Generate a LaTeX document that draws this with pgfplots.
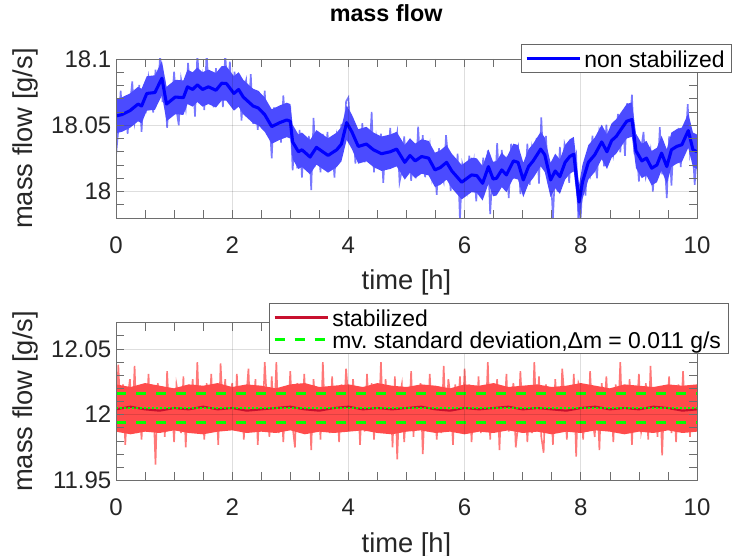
\documentclass[border=0pt]{standalone}
\usepackage{fontspec}
\setmainfont{Liberation Sans}
\usepackage{pgfplots}
\pgfplotsset{compat=1.18}
\definecolor{noiseblue}{RGB}{75,75,255}
\definecolor{smoothblue}{RGB}{0,0,255}
\definecolor{noisered}{RGB}{255,75,75}
\definecolor{crimson}{RGB}{200,16,46}
\definecolor{mygreen}{RGB}{0,255,0}
\definecolor{axgray}{RGB}{110,110,110}
\pgfplotsset{
  common/.style={
    anchor=south west, scale only axis, width=435.75pt,
    xmin=0, xmax=10, xtick={0,2,4,6,8,10}, minor xtick={0.5,1,1.5,2.5,3,3.5,4.5,5,5.5,6.5,7,7.5,8.5,9,9.5},
    tick align=inside, tick pos=both,
    axis line style={axgray, line width=0.5pt},
    tick style={axgray, line width=0.5pt},
    major tick length=6pt, minor tick length=6pt,
    grid=major, major grid style={black, opacity=0.13, line width=0.5pt},
    axis on top,
    scaled y ticks=false,
    /pgf/number format/assume math mode=true,
    tick label style={font=\fontsize{18}{20}\selectfont, color=black!85},
    xticklabel style={anchor=base, yshift=-26.7pt},
    xlabel={time [h]}, ylabel={mass flow [g/s]},
    label style={font=\fontsize{20.5}{24}\selectfont, color=black!85},
    xlabel style={at={(axis description cs:0.5,0)}, anchor=base, yshift=-54pt},
    ylabel style={at={(axis description cs:-0.1437,0.5)}, anchor=base},
    legend style={draw=black!60, line width=0.5pt, fill=white,
      font=\fontsize{17.2}{21.2}\selectfont, inner xsep=3pt, inner ysep=2.5pt,
      nodes={inner xsep=2.25pt, inner ysep=0pt}, cells={anchor=west}},
    legend image code/.code={\draw[#1] (0pt,0pt) -- (40pt,0pt);},
  }
}
\begin{document}
\begin{tikzpicture}
\begin{axis}[common, at={(87pt,253.5pt)}, height=119.25pt,
  ymin=17.98, ymax=18.1, ytick={18,18.05,18.1},
  minor ytick={17.98,17.99,18.01,18.02,18.03,18.04,18.06,18.07,18.08,18.09},
  title={mass flow},
  title style={at={(axis description cs:0.465,1)}, anchor=base, yshift=22.3pt, font=\fontsize{17.5}{20}\selectfont\bfseries},
  legend style={at={(1.0602,1.0943)}, anchor=north east}]
% raw (non stabilized) signal
\addplot[noiseblue, line width=1.2pt, opacity=0.75, forget plot] coordinates {
(0.00,18.027)(0.04,18.0465)(0.08,18.076)(0.12,18.052)(0.16,18.068)(0.20,18.0435)(0.24,18.0655)(0.28,18.083)(0.32,18.052)(0.36,18.062)
(0.40,18.0805)(0.44,18.045)(0.48,18.0765)(0.52,18.064)(0.56,18.086)(0.60,18.0755)(0.64,18.0596)(0.68,18.092)(0.72,18.0715)(0.76,18.104)
(0.80,18.0675)(0.84,18.079)(0.88,18.048)(0.92,18.0785)(0.96,18.0645)(1.00,18.0905)(1.04,18.062)(1.08,18.050)(1.12,18.0845)(1.16,18.074)
(1.20,18.063)(1.24,18.097)(1.28,18.072)(1.32,18.086)(1.36,18.0565)(1.40,18.104)(1.44,18.0775)(1.48,18.0875)(1.52,18.0615)(1.56,18.1055)
(1.60,18.0715)(1.64,18.0825)(1.68,18.0635)(1.72,18.093)(1.76,18.068)(1.80,18.0885)(1.84,18.0637)(1.88,18.104)(1.92,18.0755)(1.96,18.098)
(2.00,18.066)(2.04,18.0905)(2.08,18.0715)(2.12,18.089)(2.16,18.0535)(2.20,18.077)(2.24,18.084)(2.28,18.0575)(2.32,18.0885)(2.36,18.051)
(2.40,18.067)(2.44,18.0465)(2.48,18.070)(2.52,18.054)(2.56,18.076)(2.60,18.043)(2.64,18.0565)(2.68,18.025)(2.72,18.0635)(2.76,18.048)
(2.80,18.0625)(2.84,18.037)(2.88,18.0725)(2.92,18.0465)(2.96,18.0555)(3.00,18.062)(3.04,18.016)(3.08,18.040)(3.12,18.0175)(3.16,18.0465)
(3.20,18.0105)(3.24,18.039)(3.28,18.0235)(3.32,18.042)(3.36,18.001)(3.40,18.0555)(3.44,18.024)(3.48,18.035)(3.52,18.0145)(3.56,18.0435)
(3.60,18.023)(3.64,18.045)(3.68,18.016)(3.72,18.0365)(3.76,18.0105)(3.80,18.042)(3.84,18.0325)(3.88,18.051)(3.92,18.034)(3.96,18.068)
(4.00,18.071)(4.04,18.0425)(4.08,18.055)(4.12,18.021)(4.16,18.0425)(4.20,18.0235)(4.24,18.0515)(4.28,18.022)(4.32,18.040)(4.36,18.0265)
(4.40,18.060)(4.44,18.0145)(4.48,18.0405)(4.52,18.028)(4.56,18.0437)(4.60,18.0065)(4.64,18.038)(4.68,18.0235)(4.72,18.048)(4.76,18.019)
(4.80,18.0345)(4.84,18.0445)(4.88,18.007)(4.92,18.016)(4.96,18.0415)(5.00,18.0195)(5.04,18.0365)(5.08,18.008)(5.12,18.030)(5.16,18.010)
(5.20,18.049)(5.24,18.0185)(5.28,18.0425)(5.32,18.0108)(5.36,18.0269)(5.40,18.0357)(5.44,18.011)(5.48,18.0242)(5.52,17.9975)(5.56,18.0326)
(5.60,18.016)(5.64,18.008)(5.68,18.0425)(5.72,18.0245)(5.76,18.0005)(5.80,18.0235)(5.84,18.0065)(5.88,18.0285)(5.92,17.978)(5.96,18.0208)
(6.00,18.0135)(6.04,18.0015)(6.08,18.027)(6.12,18.011)(6.16,18.0227)(6.20,17.9925)(6.24,18.0175)(6.28,17.996)(6.32,18.0255)(6.36,18.0065)
(6.40,18.031)(6.44,17.983)(6.48,18.013)(6.52,18.0007)(6.56,18.0365)(6.60,18.0035)(6.64,18.0313)(6.68,18.010)(6.72,18.0215)(6.76,17.995)
(6.80,18.036)(6.84,18.0096)(6.88,18.0285)(6.92,18.034)(6.96,17.998)(7.00,18.011)(7.04,18.0045)(7.08,18.036)(7.12,18.005)(7.16,18.0325)
(7.20,18.0215)(7.24,18.0405)(7.28,18.006)(7.32,18.056)(7.36,18.017)(7.40,18.042)(7.44,18.010)(7.48,18.0177)(7.52,17.979)(7.56,18.0185)
(7.60,18.000)(7.64,18.0337)(7.68,18.0055)(7.72,18.036)(7.76,18.030)(7.80,18.0065)(7.84,18.039)(7.88,18.0235)(7.92,18.0285)(7.96,17.975)
(8.00,17.981)(8.04,18.0195)(8.08,17.997)(8.12,18.0265)(8.16,18.0145)(8.20,18.0422)(8.24,18.0232)(8.28,18.010)(8.32,18.046)(8.36,18.0404)
(8.40,18.019)(8.44,18.0505)(8.48,18.0255)(8.52,18.046)(8.56,18.028)(8.60,18.0397)(8.64,18.0585)(8.68,18.0295)(8.72,18.0565)(8.76,18.027)
(8.80,18.0667)(8.84,18.048)(8.88,18.073)(8.92,18.0305)(8.96,18.0342)(9.00,18.0075)(9.04,18.0325)(9.08,18.045)(9.12,18.0115)(9.16,18.0195)
(9.20,18.0305)(9.24,18.000)(9.28,18.025)(9.32,18.012)(9.36,18.0485)(9.40,18.013)(9.44,18.025)(9.48,17.995)(9.52,18.0415)(9.56,18.0045)
(9.60,18.0401)(9.64,18.0295)(9.68,18.048)(9.72,18.0185)(9.76,18.0475)(9.80,18.0335)(9.84,18.066)(9.88,18.028)(9.92,18.0375)(9.96,18.005)
(10.00,18.030)};
% dense core of the raw signal (upper envelope, then lower envelope back)
\addplot[fill=noiseblue, draw=none, forget plot] coordinates {
(0.00,18.070)(0.10,18.071)(0.24,18.074)(0.38,18.079)(0.44,18.0775)(0.53,18.087)(0.67,18.0877)(0.79,18.0985)(0.87,18.079)(1.02,18.0843)
(1.16,18.0838)(1.23,18.092)(1.32,18.090)(1.40,18.0935)(1.49,18.090)(1.59,18.092)(1.72,18.0894)(1.82,18.0947)(1.90,18.0945)(2.03,18.087)
(2.11,18.090)(2.19,18.0843)(2.36,18.0775)(2.45,18.076)(2.56,18.071)(2.68,18.062)(2.82,18.065)(2.94,18.067)(3.00,18.066)(3.04,18.0504)
(3.14,18.043)(3.20,18.0445)(3.34,18.039)(3.45,18.0463)(3.65,18.0402)(3.80,18.0445)(3.88,18.0488)(3.97,18.065)(4.06,18.058)(4.17,18.047)
(4.31,18.0488)(4.43,18.0445)(4.57,18.0415)(4.72,18.043)(4.83,18.045)(4.97,18.035)(5.06,18.0402)(5.15,18.0361)(5.26,18.0394)(5.38,18.0382)
(5.49,18.0293)(5.58,18.031)(5.69,18.035)(5.78,18.0285)(5.95,18.020)(6.12,18.0255)(6.21,18.025)(6.31,18.0192)(6.41,18.0318)(6.49,18.0224)
(6.55,18.023)(6.64,18.0293)(6.72,18.0255)(6.84,18.0361)(6.92,18.035)(7.01,18.0217)(7.10,18.0318)(7.18,18.0361)(7.31,18.045)(7.38,18.0407)
(7.48,18.0217)(7.56,18.0285)(7.64,18.0242)(7.73,18.035)(7.81,18.0394)(7.88,18.0412)(7.97,18.005)(8.03,18.0204)(8.13,18.035)(8.24,18.0407)
(8.36,18.0504)(8.45,18.043)(8.53,18.0514)(8.61,18.0546)(8.69,18.0597)(8.79,18.066)(8.88,18.0673)(8.95,18.0437)(9.05,18.0361)(9.13,18.0382)
(9.22,18.0306)(9.31,18.033)(9.39,18.042)(9.48,18.0318)(9.56,18.0445)(9.65,18.047)(9.74,18.0483)(9.85,18.059)(9.93,18.0445)(10.00,18.043)
(10.00,18.017)(9.93,18.0185)(9.85,18.033)(9.74,18.0223)(9.65,18.021)(9.56,18.0185)(9.48,18.0058)(9.39,18.016)(9.31,18.007)(9.22,18.0046)
(9.13,18.0122)(9.05,18.0101)(8.95,18.0177)(8.88,18.0413)(8.79,18.040)(8.69,18.0337)(8.61,18.0286)(8.53,18.0254)(8.45,18.017)(8.36,18.0244)
(8.24,18.0147)(8.13,18.009)(8.03,17.9944)(7.97,17.979)(7.88,18.0152)(7.81,18.0134)(7.73,18.009)(7.64,17.9982)(7.56,18.0025)(7.48,17.9957)
(7.38,18.0147)(7.31,18.019)(7.18,18.0101)(7.10,18.0058)(7.01,17.9957)(6.92,18.009)(6.84,18.0101)(6.72,17.9995)(6.64,18.0033)(6.55,17.997)
(6.49,17.9964)(6.41,18.0058)(6.31,17.9932)(6.21,17.999)(6.12,17.9995)(5.95,17.994)(5.78,18.0025)(5.69,18.009)(5.58,18.005)(5.49,18.0033)
(5.38,18.0122)(5.26,18.0134)(5.15,18.0101)(5.06,18.0142)(4.97,18.009)(4.83,18.019)(4.72,18.017)(4.57,18.0155)(4.43,18.0185)(4.31,18.0228)
(4.17,18.021)(4.06,18.032)(3.97,18.039)(3.88,18.0228)(3.80,18.0185)(3.65,18.0142)(3.45,18.0203)(3.34,18.013)(3.20,18.0185)(3.14,18.017)
(3.04,18.0244)(3.00,18.040)(2.94,18.041)(2.82,18.039)(2.68,18.036)(2.56,18.045)(2.45,18.050)(2.36,18.0515)(2.19,18.0583)(2.11,18.064)
(2.03,18.061)(1.90,18.0685)(1.82,18.0687)(1.72,18.0634)(1.59,18.066)(1.49,18.064)(1.40,18.0675)(1.32,18.064)(1.23,18.066)(1.16,18.0578)
(1.02,18.0583)(0.87,18.053)(0.79,18.0725)(0.67,18.0617)(0.53,18.061)(0.44,18.0515)(0.38,18.053)(0.24,18.048)(0.10,18.045)(0.00,18.044)} -- cycle;
% moving mean
\addplot[smoothblue, line width=2.3pt, line join=round] coordinates {
(0.00,18.057)(0.10,18.058)(0.24,18.061)(0.38,18.066)(0.44,18.0645)(0.53,18.074)(0.67,18.0747)(0.79,18.0855)(0.87,18.066)(1.02,18.0713)
(1.16,18.0708)(1.23,18.079)(1.32,18.077)(1.40,18.0805)(1.49,18.077)(1.59,18.079)(1.72,18.0764)(1.82,18.0817)(1.90,18.0815)(2.03,18.074)
(2.11,18.077)(2.19,18.0713)(2.36,18.0645)(2.45,18.063)(2.56,18.058)(2.68,18.049)(2.82,18.052)(2.94,18.054)(3.00,18.053)(3.04,18.0374)
(3.14,18.030)(3.20,18.0315)(3.34,18.026)(3.45,18.0333)(3.65,18.0272)(3.80,18.0315)(3.88,18.0358)(3.97,18.052)(4.06,18.045)(4.17,18.034)
(4.31,18.0358)(4.43,18.0315)(4.57,18.0285)(4.72,18.030)(4.83,18.032)(4.97,18.022)(5.06,18.0272)(5.15,18.0231)(5.26,18.0264)(5.38,18.0252)
(5.49,18.0163)(5.58,18.018)(5.69,18.022)(5.78,18.0155)(5.95,18.007)(6.12,18.0125)(6.21,18.012)(6.31,18.0062)(6.41,18.0188)(6.49,18.0094)
(6.55,18.010)(6.64,18.0163)(6.72,18.0125)(6.84,18.0231)(6.92,18.022)(7.01,18.0087)(7.10,18.0188)(7.18,18.0231)(7.31,18.032)(7.38,18.0277)
(7.48,18.0087)(7.56,18.0155)(7.64,18.0112)(7.73,18.022)(7.81,18.0264)(7.88,18.0282)(7.97,17.992)(8.03,18.0074)(8.13,18.022)(8.24,18.0277)
(8.36,18.0374)(8.45,18.030)(8.53,18.0384)(8.61,18.0416)(8.69,18.0467)(8.79,18.053)(8.88,18.0543)(8.95,18.0307)(9.05,18.0231)(9.13,18.0252)
(9.22,18.0176)(9.31,18.020)(9.39,18.029)(9.48,18.0188)(9.56,18.0315)(9.65,18.034)(9.74,18.0353)(9.85,18.046)(9.93,18.0315)(10.00,18.030)};
\addlegendentry{\strut non stabilized}
\end{axis}
\begin{axis}[common, at={(87pt,56.8pt)}, height=118.2pt,
  ymin=11.95, ymax=12.07, ytick={11.95,12,12.05},
  minor ytick={11.96,11.97,11.98,11.99,12.01,12.02,12.03,12.04,12.06},
  legend style={at={(0.2633,1.125)}, anchor=north west}]
\addplot[noisered, line width=1.2pt, opacity=0.75, forget plot] coordinates {
(0.00,11.991)(0.04,12.038)(0.08,11.998)(0.12,12.023)(0.16,11.977)(0.20,12.013)(0.24,12.027)(0.28,11.990)(0.32,12.037)(0.36,11.986)
(0.40,12.009)(0.44,11.981)(0.48,12.019)(0.52,11.997)(0.56,12.031)(0.60,11.987)(0.64,12.012)(0.68,11.962)(0.72,12.024)(0.76,12.001)
(0.80,12.020)(0.84,11.983)(0.88,12.033)(0.92,11.994)(0.96,12.008)(1.00,11.979)(1.04,12.023)(1.08,12.013)(1.12,11.986)(1.16,12.029)
(1.20,11.975)(1.24,12.019)(1.28,11.998)(1.32,12.027)(1.36,11.990)(1.40,12.040)(1.44,11.991)(1.48,12.009)(1.52,11.981)(1.56,12.024)
(1.60,11.997)(1.64,12.031)(1.68,11.987)(1.72,12.016)(1.76,11.977)(1.80,12.039)(1.84,12.002)(1.88,12.027)(1.92,11.991)(1.96,12.012)
(2.00,12.024)(2.04,11.990)(2.08,12.031)(2.12,11.997)(2.16,12.019)(2.20,11.981)(2.24,12.012)(2.28,12.035)(2.32,11.987)(2.36,12.001)
(2.40,12.027)(2.44,11.977)(2.48,12.016)(2.52,11.991)(2.56,12.040)(2.60,12.008)(2.64,11.983)(2.68,12.029)(2.72,11.994)(2.76,12.040)
(2.80,11.986)(2.84,12.013)(2.88,11.979)(2.92,12.020)(2.96,11.998)(3.00,12.033)(3.04,11.991)(3.08,11.975)(3.12,12.024)(3.16,12.009)
(3.20,11.987)(3.24,12.031)(3.28,11.997)(3.32,12.019)(3.36,11.973)(3.40,12.027)(3.44,12.002)(3.48,12.020)(3.52,11.981)(3.56,12.040)
(3.60,11.994)(3.64,12.012)(3.68,11.986)(3.72,12.029)(3.76,11.990)(3.80,12.016)(3.84,11.979)(3.88,12.023)(3.92,11.998)(3.96,12.035)
(4.00,12.012)(4.04,11.991)(4.08,12.027)(4.12,12.002)(4.16,12.020)(4.20,11.977)(4.24,12.016)(4.28,11.987)(4.32,12.031)(4.36,11.997)
(4.40,12.024)(4.44,11.981)(4.48,12.009)(4.52,11.991)(4.56,12.040)(4.60,11.990)(4.64,12.027)(4.68,11.998)(4.72,12.019)(4.76,11.975)
(4.80,12.029)(4.84,11.966)(4.88,12.013)(4.92,12.023)(4.96,11.979)(5.00,12.008)(5.04,11.994)(5.08,12.033)(5.12,11.983)(5.16,12.020)
(5.20,12.001)(5.24,12.024)(5.28,11.970)(5.32,12.012)(5.36,11.987)(5.40,12.031)(5.44,11.997)(5.48,12.019)(5.52,11.981)(5.56,12.009)
(5.60,11.986)(5.64,12.037)(5.68,11.990)(5.72,12.027)(5.76,12.013)(5.80,11.977)(5.84,12.023)(5.88,11.998)(5.92,12.029)(5.96,11.991)
(6.00,12.035)(6.04,11.998)(6.08,12.023)(6.12,11.979)(6.16,12.016)(6.20,11.990)(6.24,12.029)(6.28,11.986)(6.32,12.012)(6.36,11.994)
(6.40,12.040)(6.44,11.981)(6.48,12.020)(6.52,12.002)(6.56,12.027)(6.60,11.973)(6.64,12.019)(6.68,11.997)(6.72,12.031)(6.76,11.987)
(6.80,12.009)(6.84,12.024)(6.88,11.975)(6.92,11.991)(6.96,12.033)(7.00,11.998)(7.04,12.020)(7.08,11.979)(7.12,12.013)(7.16,11.986)
(7.20,12.040)(7.24,11.994)(7.28,12.029)(7.32,11.983)(7.36,11.971)(7.40,12.023)(7.44,11.991)(7.48,12.016)(7.52,11.977)(7.56,12.027)
(7.60,12.001)(7.64,11.987)(7.68,12.035)(7.72,12.012)(7.76,11.981)(7.80,12.019)(7.84,11.997)(7.88,12.031)(7.92,11.968)(7.96,12.024)
(8.00,12.019)(8.04,11.981)(8.08,12.012)(8.12,11.987)(8.16,12.033)(8.20,11.997)(8.24,11.983)(8.28,12.020)(8.32,11.973)(8.36,12.024)
(8.40,12.001)(8.44,12.029)(8.48,11.991)(8.52,12.013)(8.56,11.979)(8.60,12.023)(8.64,11.998)(8.68,12.040)(8.72,11.986)(8.76,12.009)
(8.80,11.990)(8.84,12.027)(8.88,11.977)(8.92,12.016)(8.96,12.002)(9.00,12.031)(9.04,11.987)(9.08,11.997)(9.12,12.024)(9.16,11.981)
(9.20,12.037)(9.24,11.991)(9.28,12.012)(9.32,11.983)(9.36,12.020)(9.40,11.969)(9.44,12.019)(9.48,12.001)(9.52,12.029)(9.56,11.986)
(9.60,12.013)(9.64,11.979)(9.68,12.023)(9.72,11.994)(9.76,12.033)(9.80,11.990)(9.84,12.008)(9.88,11.983)(9.92,12.019)(9.96,11.998)
(10.00,12.016)};
\addplot[fill=noisered, draw=none, forget plot] coordinates {
(0,12.023)(0.25,12.021)(0.5,12.024)(0.75,12.022)(1,12.020)(1.25,12.023)(1.5,12.022)(1.75,12.024)(2,12.021)(2.25,12.023)
(2.5,12.022)(2.75,12.020)(3,12.023)(3.25,12.024)(3.5,12.021)(3.75,12.022)(4,12.023)(4.25,12.021)(4.5,12.024)(4.75,12.022)
(5,12.021)(5.25,12.023)(5.5,12.022)(5.75,12.020)(6,12.023)(6.25,12.022)(6.5,12.024)(6.75,12.021)(7,12.022)(7.25,12.023)
(7.5,12.021)(7.75,12.022)(8,12.024)(8.25,12.022)(8.5,12.020)(8.75,12.023)(9,12.022)(9.25,12.021)(9.5,12.023)(9.75,12.022)(10,12.023)
(10,11.987)(9.75,11.986)(9.5,11.988)(9.25,11.986)(9,11.987)(8.75,11.985)(8.5,11.987)(8.25,11.988)(8,11.986)(7.75,11.987)
(7.5,11.985)(7.25,11.987)(7,11.986)(6.75,11.988)(6.5,11.986)(6.25,11.987)(6,11.985)(5.75,11.987)(5.5,11.986)(5.25,11.988)
(5,11.987)(4.75,11.985)(4.5,11.986)(4.25,11.988)(4,11.987)(3.75,11.986)(3.5,11.987)(3.25,11.985)(3,11.988)(2.75,11.986)
(2.5,11.987)(2.25,11.986)(2,11.988)(1.75,11.987)(1.5,11.985)(1.25,11.986)(1,11.988)(0.75,11.986)(0.5,11.987)(0.25,11.985)(0,11.987)} -- cycle;
\addplot[crimson, line width=1.6pt] coordinates {
(0,12.004)(0.25,12.006)(0.5,12.004)(0.75,12.003)(1.0,12.005)(1.25,12.004)(1.5,12.006)(1.75,12.004)(2.0,12.005)(2.25,12.003)
(2.5,12.004)(2.75,12.005)(3.0,12.006)(3.25,12.004)(3.5,12.003)(3.75,12.005)(4.0,12.006)(4.25,12.004)(4.5,12.005)(4.75,12.004)
(5.0,12.005)(5.25,12.006)(5.5,12.004)(5.75,12.003)(6.0,12.005)(6.25,12.004)(6.5,12.005)(6.75,12.006)(7.0,12.004)(7.25,12.005)
(7.5,12.004)(7.75,12.003)(8.0,12.005)(8.25,12.006)(8.5,12.004)(8.75,12.005)(9.0,12.004)(9.25,12.006)(9.5,12.005)(9.75,12.003)(10.0,12.004)};
\addlegendentry{\strut stabilized}
\addplot[mygreen, line width=2pt, dash pattern=on 1.5pt off 1.5pt, forget plot] coordinates {(0,12.005) (10,12.005)};
\addplot[mygreen, line width=2pt, dash pattern=on 7.5pt off 7.5pt] coordinates {(0,12.016) (10,12.016)};
\addlegendentry{\strut mv.\ standard deviation,Δm = 0.011 g/s}
\addplot[mygreen, line width=2pt, dash pattern=on 7.5pt off 7.5pt, forget plot] coordinates {(0,11.994) (10,11.994)};
\end{axis}
\pgfresetboundingbox
\path[use as bounding box] (0,0) rectangle (551.25pt,417pt);
\end{tikzpicture}
\end{document}
